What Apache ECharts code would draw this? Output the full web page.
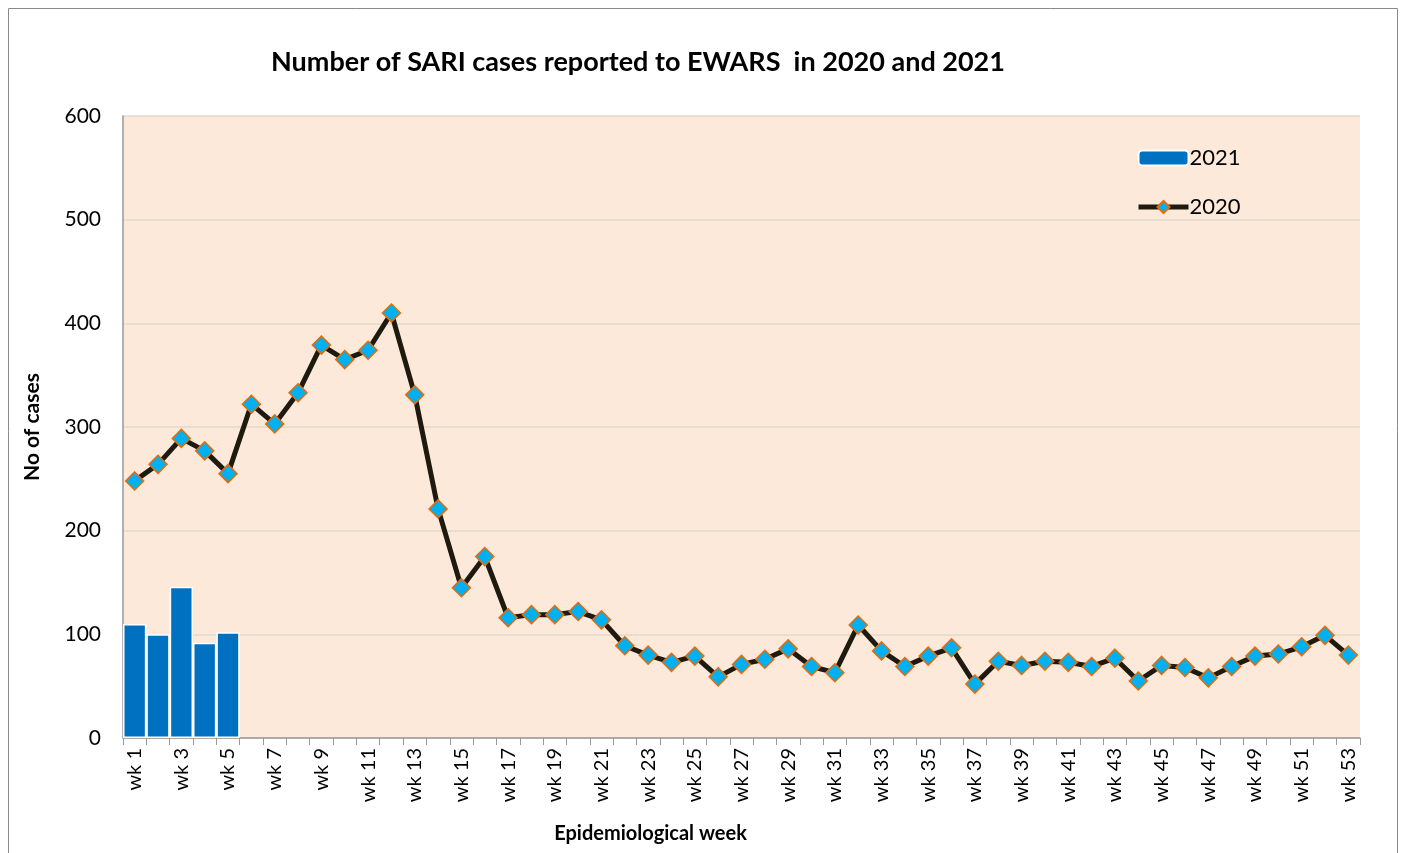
<!DOCTYPE html>
<html lang="en">
<head>
    <meta charset="UTF-8">
    <title>SARI cases</title>
    <script src="https://cdn.jsdelivr.net/npm/echarts@6/dist/echarts.min.js"></script>
    <style>
        body { margin: 0; background: #fff; }
        #main { width: 1405px; height: 853px; }
    </style>
</head>
<body>
<div id="main"></div>
<script>
    // week labels
    var weeks = [];
    for (var i = 1; i <= 53; i++) {
        weeks.push('wk ' + i);
    }
    // 2021 weekly counts (only first 5 weeks reported)
    var cases2021 = [110, 100, 146, 92, 102];
    // 2020 weekly counts
    var cases2020 = [248, 264, 289, 277, 255, 322, 303, 333, 379, 365,
        374, 410, 331, 221, 145, 175, 116, 119, 119, 122,
        114, 89, 80, 73, 79, 59, 71, 76, 86, 69,
        63, 109, 84, 69, 79, 87, 52, 74, 70, 74,
        73, 69, 77, 55, 70, 68, 58, 69, 79, 81,
        88, 99, 80];
    var yTicks = [0, 100, 200, 300, 400, 500, 600];

    var chart = echarts.init(document.getElementById('main'));
    var option = {
        animation: false,
        textStyle: { fontFamily: 'Lato, "Open Sans", sans-serif' },
        title: {
            text: 'Number of SARI cases reported to EWARS  in 2020 and 2021',
            left: 266,
            top: 44,
            textStyle: { fontSize: 27, fontWeight: 'bold', color: '#000' }
        },
        graphic: [{
            type: 'rect',
            shape: { x: 8.5, y: 8.5, width: 1389, height: 900 },
            style: { fill: 'none', stroke: '#8a8a8a', lineWidth: 1 },
            silent: true
        }],
        legend: {
            orient: 'vertical',
            left: 1131,
            top: 142,
            itemWidth: 50,
            itemHeight: 15,
            itemGap: 27,
            data: ['2021', { name: '2020', lineStyle: { width: 5 } }],
            textStyle: { fontSize: 22, color: '#000', padding: [0, 0, 0, -4] }
        },
        grid: {
            left: 123,
            right: 45,
            top: 116,
            bottom: 115,
            outerBoundsMode: 'none',
            show: true,
            backgroundColor: '#FDE9D9',
            borderWidth: 0
        },
        xAxis: {
            type: 'category',
            data: weeks,
            boundaryGap: true,
            name: 'Epidemiological week',
            nameLocation: 'middle',
            nameGap: 86,
            nameTextStyle: { fontSize: 20, fontWeight: 'bold', color: '#000', padding: [0, 182, 0, 0] },
            axisLine: { lineStyle: { color: '#999', width: 1.5 } },
            axisTick: { show: true, interval: 0, length: 7, lineStyle: { color: '#999' } },
            axisLabel: { interval: 1, rotate: 90, fontSize: 20, color: '#000', margin: 10 }
        },
        yAxis: {
            type: 'value',
            min: 0,
            max: 600,
            interval: 100,
            name: 'No of cases',
            nameLocation: 'middle',
            nameGap: 80,
            nameRotate: 90,
            nameTextStyle: { fontSize: 21, fontWeight: 'bold', color: '#000' },
            axisLine: { show: true, lineStyle: { color: '#999', width: 1.5 } },
            axisTick: { show: false },
            axisLabel: {
                fontSize: 21, color: '#000', margin: 22,
                formatter: function (v) { return yTicks.indexOf(v) >= 0 ? v : ''; }
            },
            splitLine: { lineStyle: { color: '#E2D8C8', width: 1.5 } }
        },
        series: [
            {
                name: '2021',
                type: 'bar',
                data: cases2021,
                barCategoryGap: '0%',
                itemStyle: { color: '#0070C0', borderColor: '#fff', borderWidth: 1.5 }
            },
            {
                name: '2020',
                type: 'line',
                data: cases2020,
                symbol: 'diamond',
                symbolSize: 18,
                showAllSymbol: true,
                itemStyle: { color: '#00B0F0', borderColor: '#E46C0A', borderWidth: 1.5 },
                lineStyle: { color: '#1E1A10', width: 5 }
            }
        ]
    };
    chart.setOption(option);
</script>
</body>
</html>
